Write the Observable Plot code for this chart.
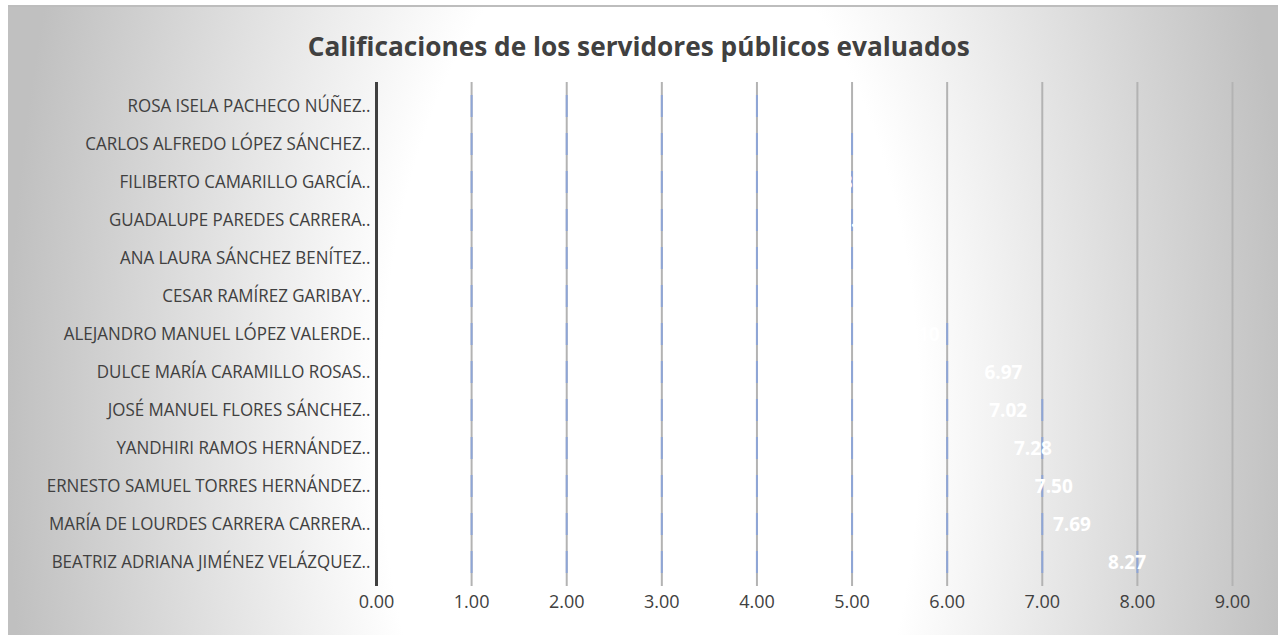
<!DOCTYPE html>
<html><head><meta charset="utf-8">
<script src="https://cdn.jsdelivr.net/npm/d3@7"></script>
<script src="https://cdn.jsdelivr.net/npm/@observablehq/plot@0.6"></script>
<style>
html,body{margin:0;padding:0;background:#fff;}
#wrap{position:relative;width:1278px;height:635px;overflow:hidden;}
#bg{position:absolute;left:8px;top:5px;width:1270px;height:630px;border-top:2px solid #bdbdbd;box-sizing:border-box;
 background:radial-gradient(ellipse 643px 1238px at 642px 415px, #ffffff 42%, #c0c0c0 100%);}
#title{position:absolute;left:0;width:1278px;top:31px;text-align:center;font-family:'Open Sans';font-weight:700;font-size:27px;color:#404040;line-height:30px;white-space:nowrap}
#title span{display:inline-block;transform-origin:center}
#chart{position:absolute;left:0;top:80px;}
</style></head><body>
<div id="wrap"><div id="bg"></div><div id="title"><span>Calificaciones de los servidores públicos evaluados</span></div><div id="chart"></div></div>
<script>
const names = [
  "ROSA ISELA PACHECO NÚÑEZ",
  "CARLOS ALFREDO LÓPEZ SÁNCHEZ",
  "FILIBERTO CAMARILLO GARCÍA",
  "GUADALUPE PAREDES CARRERA",
  "ANA LAURA SÁNCHEZ BENÍTEZ",
  "CESAR RAMÍREZ GARIBAY",
  "ALEJANDRO MANUEL LÓPEZ VALERDE",
  "DULCE MARÍA CARAMILLO ROSAS",
  "JOSÉ MANUEL FLORES SÁNCHEZ",
  "YANDHIRI RAMOS HERNÁNDEZ",
  "ERNESTO SAMUEL TORRES HERNÁNDEZ",
  "MARÍA DE LOURDES CARRERA CARRERA",
  "BEATRIZ ADRIANA JIMÉNEZ VELÁZQUEZ"
];
const scores = [4.75, 5.10, 5.30, 5.45, 5.65, 5.80, 6.10, 6.97, 7.02, 7.28, 7.50, 7.69, 8.27];
const xTicks = [0, 1, 2, 3, 4, 5, 6, 7, 8, 9];
const gridTicks = [1, 2, 3, 4, 5, 6, 7, 8, 9];

const data = names.map((n, i) => ({name: n, score: scores[i]}));
// gridline segments that fall inside each bar (tinted)
const segs = data.flatMap(d => gridTicks.filter(k => k <= d.score).map(k => ({name: d.name, k})));

const chart = Plot.plot({
  width: 1278, height: 555,
  marginTop: 2, marginBottom: 49, marginLeft: 376, marginRight: 46,
  style: {background: "transparent", fontFamily: "'Open Sans'", color: "#404040", fontSize: "18px"},
  x: {domain: [0, 9], label: null},
  y: {domain: names, paddingInner: 0.43, paddingOuter: 0.215, label: null},
  marks: [
    Plot.ruleX(gridTicks, {stroke: "#b3b3b3", strokeWidth: 2}),
    Plot.barX(data, {x: "score", y: "name", fill: "#ffffff", fillOpacity: 0}),
    Plot.tickX(segs, {x: "k", y: "name", stroke: "#8ea5d6", strokeWidth: 2}),
    Plot.ruleX([0], {stroke: "#404040", strokeWidth: 3}),
    Plot.text(data, {x: "score", y: "name", text: d => d.score.toFixed(2), textAnchor: "end", dx: -17,
      fill: "white", fontWeight: 700, fontSize: 19, fontFamily: "'Open Sans'"}),
    Plot.axisX({ticks: xTicks, tickFormat: d => d.toFixed(2), tickSize: 0, tickPadding: 9, fontSize: 18, fill: "#404040", label: null}),
    Plot.axisY({tickSize: 0, tickPadding: 6, fontSize: 18, fill: "#404040", label: null, tickFormat: d => d + ".."})
  ]
});
document.getElementById("chart").appendChild(chart);

function fit() {
  const texts = chart.querySelectorAll('g[aria-label="y-axis tick label"] text');
  let maxW = 0;
  texts.forEach(t => {
    if (!t.hasAttribute("data-t")) t.setAttribute("data-t", t.getAttribute("transform") || "");
    t.setAttribute("transform", t.getAttribute("data-t"));
    maxW = Math.max(maxW, t.getBBox().width);
  });
  const s = maxW > 0 ? 324 / maxW : 1;
  texts.forEach(t => t.setAttribute("transform", t.getAttribute("data-t") + ` scale(${s},1)`));
  const span = document.querySelector("#title span");
  span.style.transform = "";
  const w = span.getBoundingClientRect().width;
  span.style.transform = `scaleX(${662 / w})`;
}
fit();
if (document.fonts && document.fonts.ready) document.fonts.ready.then(fit);
</script>
</body></html>
